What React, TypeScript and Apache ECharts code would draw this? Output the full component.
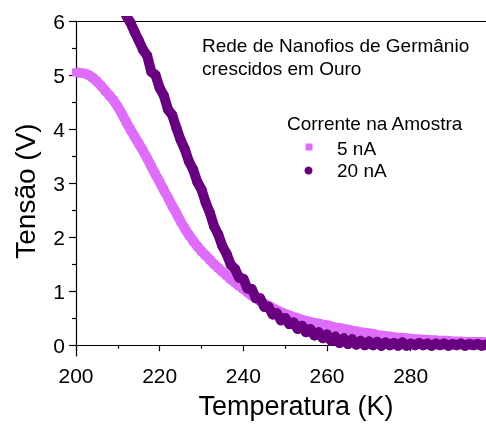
import React, { useEffect, useRef } from "react";
import * as echarts from "echarts";

const FONT = '"Liberation Sans", Arial, Helvetica, sans-serif';

// 5 nA series (temperature K, voltage V)
const temps5 = [
  200, 201, 202, 203, 204, 205, 206, 207, 208, 209, 210, 211, 212, 213, 214, 215, 216, 217, 218, 219,
  220, 221, 222, 223, 224, 225, 226, 227, 228, 229, 230, 231, 232, 233, 234, 235, 236, 237, 238, 239,
  240, 241, 242, 243, 244, 245, 246, 247, 248, 249, 250, 251, 252, 253, 254, 255, 256, 257, 258, 259,
  260, 261, 262, 263, 264, 265, 266, 267, 268, 269, 270, 271, 272, 273, 274, 275, 276, 277, 278, 279,
  280, 281, 282, 283, 284, 285, 286, 287, 288, 289, 290, 291, 292, 293, 294, 295, 296, 297, 298,
];
const volts5 = [
  5.05, 5.04, 5.03, 5.0, 4.95, 4.88, 4.8, 4.71, 4.62, 4.53, 4.41, 4.28, 4.13, 3.99, 3.86, 3.73, 3.6, 3.46, 3.31, 3.16,
  3.02, 2.87, 2.73, 2.58, 2.44, 2.29, 2.16, 2.04, 1.93, 1.83, 1.74, 1.66, 1.58, 1.5, 1.43, 1.36, 1.29, 1.22, 1.16, 1.1,
  1.04, 0.98, 0.92, 0.87, 0.82, 0.77, 0.73, 0.69, 0.65, 0.61, 0.58, 0.55, 0.52, 0.5, 0.47, 0.45, 0.43, 0.41, 0.4, 0.38,
  0.37, 0.35, 0.33, 0.32, 0.3, 0.29, 0.27, 0.26, 0.24, 0.23, 0.22, 0.21, 0.19, 0.18, 0.17, 0.16, 0.15, 0.14, 0.14, 0.13,
  0.12, 0.11, 0.11, 0.1, 0.1, 0.09, 0.09, 0.08, 0.08, 0.08, 0.07, 0.07, 0.07, 0.06, 0.06, 0.06, 0.06, 0.06, 0.055,
];

// 20 nA series
const temps20 = [
  212, 213, 214, 215, 216, 217, 218, 219, 220, 221, 222, 223, 224, 225, 226, 227, 228, 229,
  230, 231, 232, 233, 234, 235, 236, 237, 238, 239, 240, 241, 242, 243, 244, 245, 246, 247, 248, 249,
  250, 251, 252, 253, 254, 255, 256, 257, 258, 259, 260, 261, 262, 263, 264, 265, 266, 267, 268, 269,
  270, 271, 272, 273, 274, 275, 276, 277, 278, 279, 280, 281, 282, 283, 284, 285, 286, 287, 288, 289,
  290, 291, 292, 293, 294, 295, 296, 297, 298,
];
const volts20 = [
  6.1, 5.97, 5.8, 5.64, 5.47, 5.36, 5.06, 5.0, 4.76, 4.62, 4.36, 4.26, 4.02, 3.8, 3.63, 3.4, 3.25, 3.02,
  2.88, 2.64, 2.45, 2.2, 2.05, 1.83, 1.69, 1.49, 1.41, 1.25, 1.23, 1.05, 1.04, 0.87, 0.87, 0.71, 0.71, 0.57, 0.59, 0.46,
  0.5, 0.39, 0.42, 0.3, 0.36, 0.24, 0.3, 0.18, 0.24, 0.13, 0.2, 0.08, 0.16, 0.04, 0.13, 0.02, 0.11, 0.01, 0.08, 0.0,
  0.07, 0.0, 0.06, -0.01, 0.05, 0.0, 0.04, -0.01, 0.05, -0.01, 0.03, 0.0, 0.04, 0.0, 0.03, -0.01, 0.03, 0.0, 0.03, -0.01,
  0.02, 0.0, 0.03, -0.01, 0.02, 0.0, 0.02, -0.01, 0.01,
];

const xMajor = [200, 220, 240, 260, 280];
const xMinor = [210, 230, 250, 270, 290];
const yMajor = [0, 1, 2, 3, 4, 5, 6];
const yMinor = [0.5, 1.5, 2.5, 3.5, 4.5, 5.5];

const seriesNames = ["5 nA", "20 nA"];
const PINK = "#DE6EFA";
const PURPLE = "#680080";

export default function App() {
  const ref = useRef<HTMLDivElement>(null);
  useEffect(() => {
    const chart = echarts.init(ref.current!, null, { renderer: "svg" });
    const axisLine = { show: true, lineStyle: { color: "#000", width: 1.2 } };
    chart.setOption({
      animation: false,
      grid: { left: 76, right: 0, top: 21, bottom: 72, outerBoundsMode: "none" },
      xAxis: [
        {
          type: "value", position: "bottom", min: 200, max: 298,
          axisLine,
          axisTick: { show: true, length: 6, customValues: xMajor, lineStyle: { color: "#000", width: 1.2 } },
          axisLabel: { customValues: xMajor, fontSize: 21, color: "#000", fontFamily: FONT, margin: 9 },
          splitLine: { show: false },
        },
        {
          type: "value", position: "bottom", min: 200, max: 298,
          axisLine: { show: false },
          axisTick: { show: true, length: 3.5, customValues: xMinor, lineStyle: { color: "#000", width: 1.2 } },
          axisLabel: { show: false },
          splitLine: { show: false },
        },
        {
          type: "value", position: "top", min: 200, max: 298,
          axisLine,
          axisTick: { show: false },
          axisLabel: { show: false },
          splitLine: { show: false },
        },
      ],
      yAxis: [
        {
          type: "value", position: "left", min: -0.2, max: 6,
          axisLine,
          axisTick: { show: true, length: 7, customValues: yMajor, lineStyle: { color: "#000", width: 1.2 } },
          axisLabel: { customValues: yMajor, fontSize: 21, color: "#000", fontFamily: FONT, margin: 11 },
          splitLine: { show: false },
        },
        {
          type: "value", position: "left", min: -0.2, max: 6,
          axisLine: { show: false },
          axisTick: { show: true, length: 4, customValues: yMinor, lineStyle: { color: "#000", width: 1.2 } },
          axisLabel: { show: false },
          splitLine: { show: false },
        },
      ],
      series: [
        {
          name: seriesNames[0], type: "line", xAxisIndex: 0, yAxisIndex: 0,
          data: temps5.map((t, i) => [t, volts5[i]]),
          symbol: "rect", symbolSize: 8, showSymbol: true,
          itemStyle: { color: PINK, borderWidth: 0 },
          lineStyle: { color: PINK, width: 10, join: "round" },
          silent: true, clip: true, z: 2,
        },
        {
          name: seriesNames[1], type: "line", xAxisIndex: 0, yAxisIndex: 0,
          data: temps20.map((t, i) => [t, volts20[i]]),
          symbol: "circle", symbolSize: 10, showSymbol: true,
          itemStyle: { color: PURPLE, borderWidth: 0 },
          lineStyle: { color: PURPLE, width: 10, join: "round", cap: "round" },
          silent: true, clip: true, z: 3,
        },
      ],
      graphic: [
        {
          type: "text", x: 296, y: 406,
          style: { text: "Temperatura (K)", font: `27px ${FONT}`, fill: "#000", align: "center", verticalAlign: "middle" },
        },
        {
          type: "text", x: 25, y: 191, rotation: Math.PI / 2,
          style: { text: "Tensão (V)", font: `28px ${FONT}`, fill: "#000", align: "center", verticalAlign: "middle" },
        },
        {
          type: "text", x: 202, y: 45,
          style: { text: "Rede de Nanofios de Germânio", font: `19px ${FONT}`, fill: "#000", align: "left", verticalAlign: "middle" },
        },
        {
          type: "text", x: 202, y: 68,
          style: { text: "crescidos em Ouro", font: `19px ${FONT}`, fill: "#000", align: "left", verticalAlign: "middle" },
        },
        {
          type: "text", x: 287, y: 123,
          style: { text: "Corrente na Amostra", font: `19px ${FONT}`, fill: "#000", align: "left", verticalAlign: "middle" },
        },
        { type: "rect", shape: { x: 305.5, y: 143.5, width: 7, height: 7 }, style: { fill: PINK } },
        {
          type: "text", x: 337, y: 148,
          style: { text: seriesNames[0], font: `19px ${FONT}`, fill: "#000", align: "left", verticalAlign: "middle" },
        },
        { type: "circle", shape: { cx: 308.5, cy: 170.5, r: 4 }, style: { fill: PURPLE } },
        {
          type: "text", x: 337, y: 170,
          style: { text: seriesNames[1], font: `19px ${FONT}`, fill: "#000", align: "left", verticalAlign: "middle" },
        },
      ],
    });
    return () => chart.dispose();
  }, []);
  return <div ref={ref} style={{ position: "fixed", left: 0, top: 0, width: 486, height: 428 }} />;
}
